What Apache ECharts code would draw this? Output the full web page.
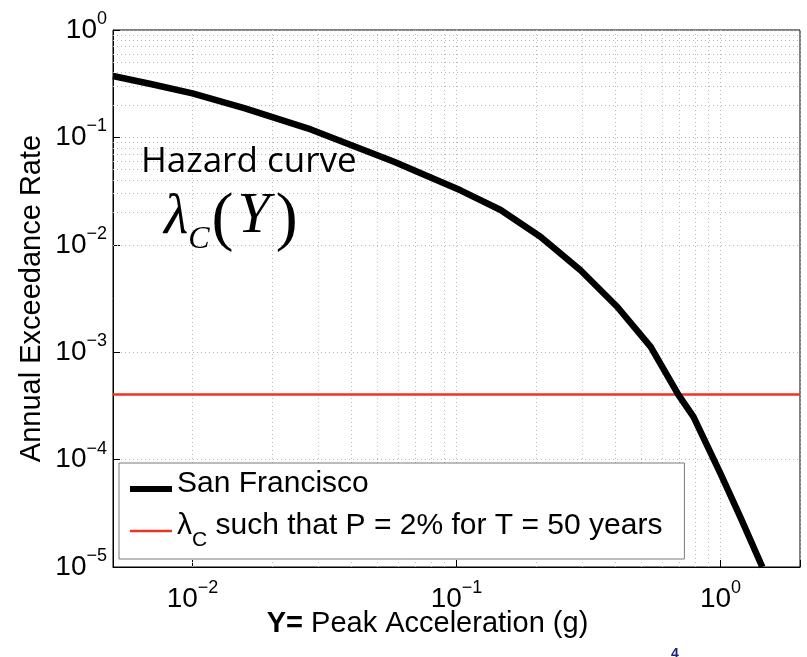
<!DOCTYPE html>
<html>
<head>
<meta charset="utf-8">
<script src="https://cdn.jsdelivr.net/npm/echarts@6/dist/echarts.min.js"></script>
<style>
  html, body { margin: 0; padding: 0; background: #fff; }
  #chart { width: 807px; height: 657px; }
</style>
</head>
<body>
<div id="chart"></div>
<script>
// hazard curve (PGA in g, annual exceedance rate)
const accel = [0.005, 0.00695, 0.01, 0.0157, 0.0273, 0.058, 0.104, 0.147, 0.208, 0.295, 0.406, 0.544, 0.693, 0.79, 1.0, 1.19, 1.44];
const rate = [0.373, 0.314, 0.257, 0.187, 0.1216, 0.0594, 0.032, 0.0211, 0.0119, 0.0058, 0.00265, 0.00112, 0.0004, 0.00025, 0.000074, 0.000029, 0.00001];

// lambda_C for P = 2% in T = 50 years
const lambdaC = 0.000404;
const xRange = [0.005, 2];
const yRange = [0.00001, 1];

// minor grid (matlab style 2..9 per decade)
const minorSteps = [2, 3, 4, 5, 6, 7, 8, 9];
const xDecades = [0.001, 0.01, 0.1, 1];
const yDecades = [0.00001, 0.0001, 0.001, 0.01, 0.1];

const curveName = "San Francisco";
const redName = "lambdaC";
const redLabel = " such that P = 2% for T = 50 years";

const FONT = "Liberation Sans";

const chart = echarts.init(document.getElementById("chart"));

const gridLines = [];
xDecades.forEach(d => minorSteps.forEach(m => {
  const v = d * m;
  if (v > xRange[0] && v < xRange[1]) gridLines.push({ xAxis: v });
}));
yDecades.forEach(d => minorSteps.forEach(m => {
  const v = d * m;
  if (v > yRange[0] && v < yRange[1]) gridLines.push({ yAxis: v });
}));

function powLabel(v) {
  const e = Math.round(Math.log10(v));
  if (Math.abs(Math.log10(v) - e) > 1e-6) return "";
  const ex = e < 0 ? "\u2212" + (-e) : String(e);
  return "{b|10}{s|" + ex + "}";
}

const powRich = {
  b: { fontFamily: FONT, fontSize: 28, lineHeight: 28, color: "#000", verticalAlign: "bottom" },
  s: { fontFamily: FONT, fontSize: 18, lineHeight: 18, color: "#000", verticalAlign: "bottom", padding: [0, 0, 16, 0] }
};

const dotted = { color: "#b8b8b8", width: 1, type: [1, 3] };

chart.setOption({
  animation: false,
  grid: {
    left: 113, right: 7, top: 30, bottom: 90,
    show: true, borderColor: "#000", borderWidth: 1, backgroundColor: "#fff"
  },
  legend: {
    data: [
      { name: curveName, lineStyle: { width: 6, color: "#000" } },
      { name: redName, lineStyle: { width: 2.5, color: "#ee3224" } }
    ],
    orient: "vertical",
    left: 119, top: 463,
    padding: [6, 22, 8, 8],
    itemGap: 12,
    itemWidth: 42,
    itemHeight: 16,
    backgroundColor: "#fff",
    borderColor: "#7a7a7a",
    borderWidth: 1,
    borderRadius: 0,
    itemStyle: { opacity: 0 },
    selectedMode: false,
    formatter: (name) => name === redName
      ? "{g|\u03bb}{c|C}{g|" + redLabel + "}"
      : "{g|" + name + "}",
    textStyle: {
      fontFamily: FONT, fontSize: 30, color: "#000",
      rich: {
        g: { fontFamily: FONT, fontSize: 30, color: "#000", verticalAlign: "bottom", padding: [0, 0, 10, 0] },
        c: { fontFamily: FONT, fontSize: 21, color: "#000", verticalAlign: "bottom" }
      }
    }
  },
  xAxis: {
    type: "log",
    logBase: 10,
    min: xRange[0],
    max: xRange[1],
    name: "{y|Y=} Peak Acceleration (g)",
    nameLocation: "middle",
    nameGap: 42,
    nameMoveOverlap: false,
    nameTextStyle: {
      fontFamily: FONT, fontSize: 29, color: "#000",
      padding: [0, 58, 0, 0],
      rich: {
        y: { fontFamily: FONT, fontSize: 29, fontWeight: "bold", color: "#000" }
      }
    },
    axisLine: { show: true, lineStyle: { color: "#000", width: 1 } },
    axisTick: { show: true, inside: true, length: 7, lineStyle: { color: "#000" } },
    axisLabel: { margin: 18, formatter: powLabel, rich: powRich },
    splitLine: { show: true, lineStyle: dotted }
  },
  yAxis: {
    type: "log",
    logBase: 10,
    min: yRange[0],
    max: yRange[1],
    name: "Annual Exceedance Rate",
    nameLocation: "middle",
    nameGap: 67,
    nameMoveOverlap: false,
    nameTextStyle: { fontFamily: FONT, fontSize: 29, color: "#000" },
    axisLine: { show: true, lineStyle: { color: "#000", width: 1 } },
    axisTick: { show: true, inside: true, length: 7, lineStyle: { color: "#000" } },
    axisLabel: { margin: 6, formatter: powLabel, rich: powRich },
    splitLine: { show: true, lineStyle: dotted }
  },
  series: [
    {
      name: "grid",
      type: "line",
      data: [],
      z: 1,
      silent: true,
      markLine: {
        z: 1,
        silent: true,
        symbol: ["none", "none"],
        label: { show: false },
        lineStyle: dotted,
        data: gridLines
      }
    },
    {
      name: redName,
      type: "line",
      z: 3,
      symbol: "none",
      data: [[xRange[0], lambdaC], [xRange[1], lambdaC]],
      lineStyle: { color: "#ee3224", width: 2.5 },
      itemStyle: { color: "#ee3224" }
    },
    {
      name: curveName,
      type: "line",
      z: 4,
      symbol: "none",
      data: accel.map((a, i) => [a, rate[i]]),
      lineStyle: { color: "#000", width: 6.5, join: "round" },
      itemStyle: { color: "#000" }
    }
  ],
  graphic: [
    {
      type: "text",
      left: 141, top: 145,
      z: 10,
      style: { text: "Hazard curve", fontFamily: "Open Sans", fontSize: 35, fill: "#000" }
    },
    {
      type: "text",
      left: 164, top: 188,
      z: 10,
      style: {
        text: "{l|\u03bb}{c|C}{p|(}{y|Y}{p|)}",
        rich: {
          l: { fontFamily: "Liberation Serif", fontStyle: "italic", fontSize: 56, fill: "#000", verticalAlign: "bottom", padding: [0, 0, 10, 0] },
          c: { fontFamily: "Liberation Serif", fontStyle: "italic", fontSize: 32, fill: "#000", verticalAlign: "bottom", padding: [0, 2, 0, 0] },
          p: { fontFamily: "Liberation Serif", fontSize: 66, fill: "#000", verticalAlign: "bottom", padding: [0, 0, 2, 0] },
          y: { fontFamily: "Liberation Serif", fontStyle: "italic", fontSize: 58, fill: "#000", verticalAlign: "bottom", padding: [0, 6, 10, 4] }
        }
      }
    },
    {
      type: "text",
      left: 671, top: 647,
      style: { text: "4", fontFamily: FONT, fontSize: 14, fontWeight: "bold", fill: "#1a237e" }
    }
  ]
});
</script>
</body>
</html>
